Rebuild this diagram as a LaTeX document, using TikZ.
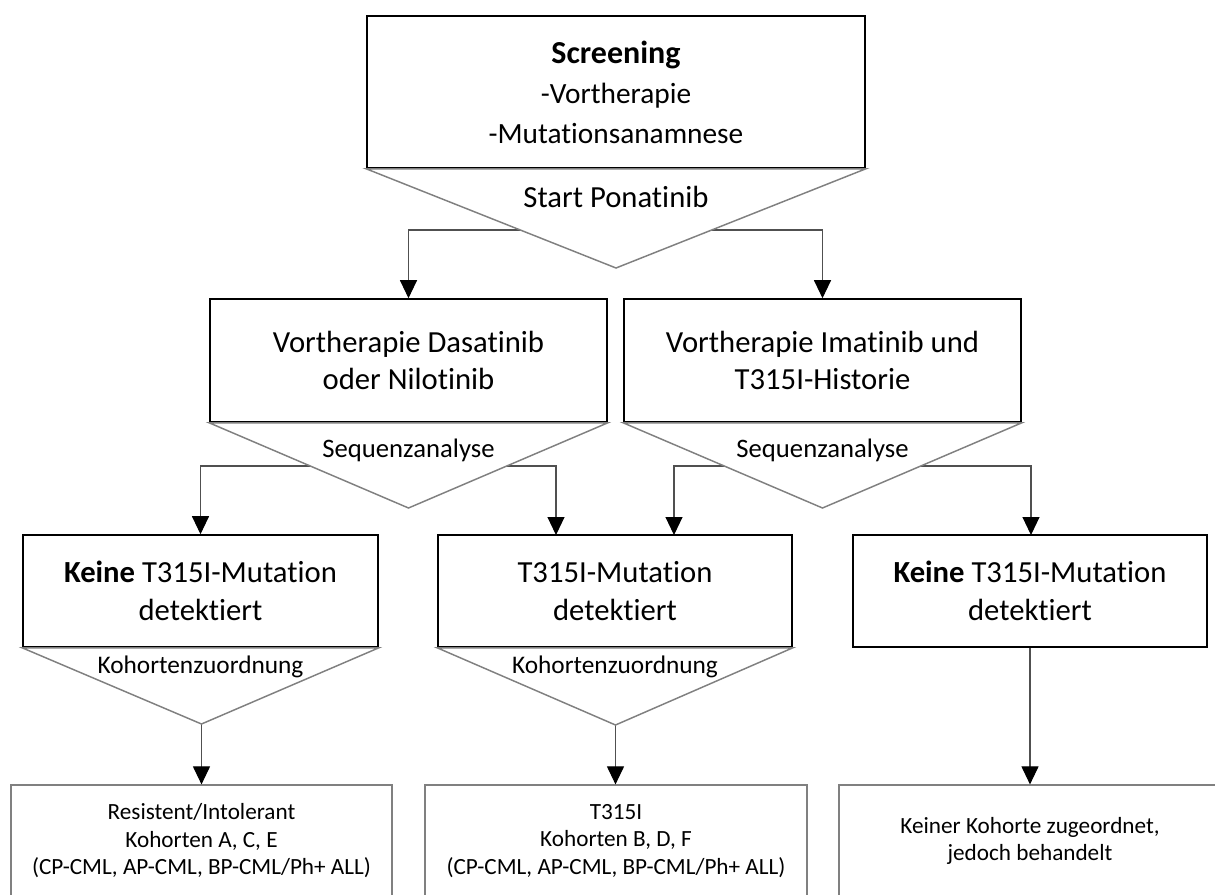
\documentclass[tikz,border=0pt]{standalone}
\usepackage{fontspec}
\setmainfont[Ligatures=NoCommon]{Carlito}
\usetikzlibrary{arrows.meta}
\definecolor{triGray}{RGB}{128,128,128}
\definecolor{connGray}{RGB}{80,80,80}
\begin{document}
\begin{tikzpicture}[x=0.75pt,y=-0.75pt,
  box/.style={draw=black,line width=1.2pt,fill=white,align=center,inner sep=0pt},
  tri/.style={draw=triGray,line width=1.1pt,fill=white,line join=miter},
  res/.style={draw=triGray,line width=0.9pt,fill=white,align=center,inner sep=0pt,
    minimum height=84pt,font=\fontsize{17.4}{20.6}\selectfont},
  conn/.style={draw=connGray,line width=0.8pt,-{Triangle[width=12.75pt,length=13.5pt,color=black]}},
  lbl/.style={inner sep=0pt,anchor=base},
  big/.style={font=\fontsize{23}{28}\selectfont}
]
\useasboundingbox (0,0) rectangle (1215,894);
\clip (0,0) rectangle (1215,894);

% boxes
\node[box,minimum width=373.5pt,minimum height=114pt,font=\fontsize{22}{30}\selectfont] (screen) at (616,92)
  {{\fontsize{24}{30}\selectfont\bfseries Screening}\\-Vortherapie\\-Mutationsanamnese};
\node[box,big,minimum width=297.75pt,minimum height=92.25pt] (vd) at (408.5,360.5)
  {Vortherapie Dasatinib\\oder Nilotinib};
\node[box,big,minimum width=297.75pt,minimum height=92.25pt] (vi) at (822.5,360.5)
  {Vortherapie Imatinib und\\T315I-Historie};
\node[box,big,minimum width=266.25pt,minimum height=84pt] (k1) at (200.5,591)
  {\textbf{Keine} T315I-Mutation\\detektiert};
\node[box,big,minimum width=265.5pt,minimum height=84pt] (t1) at (615,591)
  {T315I-Mutation\\detektiert};
\node[box,big,minimum width=265.5pt,minimum height=84pt] (k2) at (1030,591)
  {\textbf{Keine} T315I-Mutation\\detektiert};

\node[res,minimum width=285.75pt] (r1) at (201.5,841)
  {Resistent/Intolerant\\Kohorten A, C, E\\(CP-CML, AP-CML, BP-CML/Ph+ ALL)};
\node[res,minimum width=286.5pt] (r2) at (616,841)
  {T315I\\Kohorten B, D, F\\(CP-CML, AP-CML, BP-CML/Ph+ ALL)};
\node[res,minimum width=286.5pt] (r3) at (1030,841)
  {Keiner Kohorte zugeordnet,\\jedoch behandelt};

% connector anchors
\coordinate (s1) at (616,230);
\coordinate (s2) at (408.5,466);
\coordinate (s3) at (822.5,466);
\coordinate (in2a) at (556,535);
\coordinate (in2b) at (674,535);
\coordinate (in3) at (1031,535);
\coordinate (a0) at (616,268);
\coordinate (a1) at (408.5,508);
\coordinate (a2) at (822.5,508);
\coordinate (a3) at (201.5,724);
\coordinate (a4) at (615.5,725);

% connectors
\draw[conn] (s1) -| (vd.north);
\draw[conn] (s1) -| (vi.north);
\draw[conn] (s2) -| (k1.north);
\draw[conn] (s2) -| (in2a);
\draw[conn] (s3) -| (in2b);
\draw[conn] (s3) -| (in3);
\draw[conn] (a3) -- (a3 |- r1.north);
\draw[conn] (a4) -- (a4 |- r2.north);
\draw[conn] (k2.south) -- (r3.north);

% triangles
\draw[tri] (screen.south west) -- (screen.south east) -- (a0) -- cycle;
\draw[tri] (vd.south west) -- (vd.south east) -- (a1) -- cycle;
\draw[tri] (vi.south west) -- (vi.south east) -- (a2) -- cycle;
\draw[tri] (k1.south west) -- (k1.south east) -- (a3) -- cycle;
\draw[tri] (t1.south west) -- (t1.south east) -- (a4) -- cycle;

% triangle labels
\node[lbl,font=\fontsize{23}{26}\selectfont] (l0) at (616,207) {Start Ponatinib};
\node[lbl,font=\fontsize{20}{23}\selectfont] (l1) at (408.5,457) {Sequenzanalyse};
\node[lbl,font=\fontsize{20}{23}\selectfont] (l2) at (822.5,457) {Sequenzanalyse};
\node[lbl,font=\fontsize{19}{23}\selectfont] (l3) at (200.5,673) {Kohortenzuordnung};
\node[lbl,font=\fontsize{19}{23}\selectfont] (l4) at (615,673) {Kohortenzuordnung};
\end{tikzpicture}
\end{document}
